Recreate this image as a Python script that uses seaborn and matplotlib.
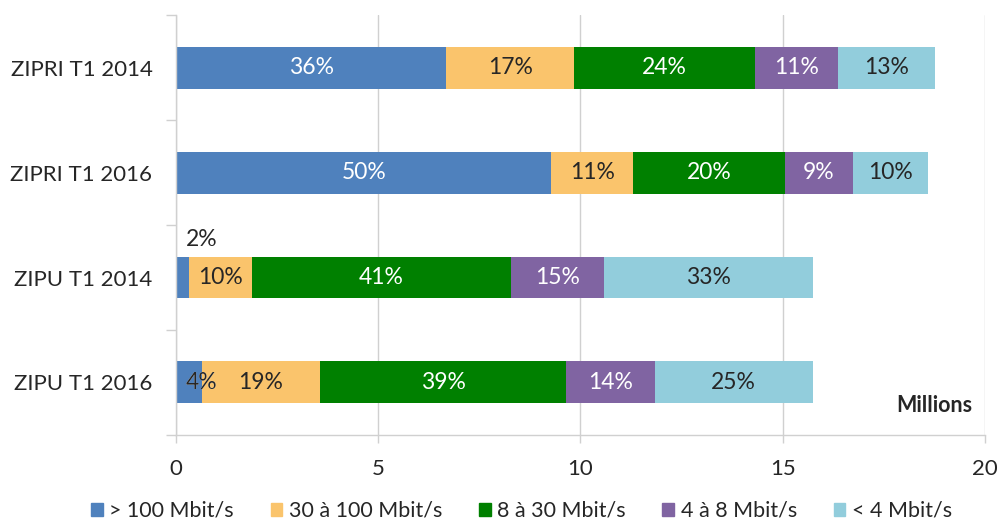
import numpy as np
import pandas as pd
import matplotlib
matplotlib.use("Agg")
import matplotlib.pyplot as plt
from matplotlib.patches import Rectangle
import seaborn as sns

# Subscriber counts (millions) by access speed class
categories = ["ZIPRI T1 2014", "ZIPRI T1 2016", "ZIPU T1 2014", "ZIPU T1 2016"]
speed_classes = ["> 100 Mbit/s", "30 à 100 Mbit/s", "8 à 30 Mbit/s", "4 à 8 Mbit/s", "< 4 Mbit/s"]
over_100 = [6.68, 9.28, 0.32, 0.64]
from_30_to_100 = [3.17, 2.03, 1.56, 2.92]
from_8_to_30 = [4.46, 3.74, 6.39, 6.09]
from_4_to_8 = [2.05, 1.68, 2.32, 2.18]
under_4 = [2.40, 1.86, 5.15, 3.91]

colors = ["#4F81BD", "#FAC46C", "#008000", "#8064A2", "#92CDDC"]
label_colors = ["white", "#262626", "white", "white", "#262626"]

sns.set_theme(style="white")
plt.rcParams["font.family"] = ["Lato", "DejaVu Sans"]

series = [over_100, from_30_to_100, from_8_to_30, from_4_to_8, under_4]
values = np.array(series)            # shape (classes, categories)
totals = values.sum(axis=0)
cum = np.cumsum(values, axis=0)
starts = cum - values
pct = np.rint(values / totals * 100).astype(int)

fig = plt.figure(figsize=(10.03, 5.22), dpi=100)
ax = fig.add_axes([0.1755, 0.1667, 0.8065, 0.8045])

# Stacked bars: draw cumulative totals from the outermost layer inwards
for k in range(len(speed_classes) - 1, -1, -1):
    df = pd.DataFrame({"cat": categories, "val": cum[k]})
    sns.barplot(data=df, x="val", y="cat", orient="h", color=colors[k],
                width=0.4, saturation=1, ax=ax, zorder=2, linewidth=0)

ax.set_xlim(0, 20)
ax.set_ylim(3.5, -0.5)
ax.set_xlabel("")
ax.set_ylabel("")

LABEL_FS = 16.5

# Segment percentage labels
ypos = np.arange(len(categories))
for k in range(len(speed_classes)):
    for j in range(len(categories)):
        txt = f"{pct[k, j]}%"
        xc = starts[k, j] + values[k, j] / 2
        if categories[j] == "ZIPU T1 2014" and k == 0:
            # tiny slice: label sits above the bar
            ax.text(starts[k, j] + values[k, j] * 2, ypos[j] - 0.36, txt,
                    ha="center", va="center", fontsize=LABEL_FS, color="#262626", zorder=4)
            continue
        if categories[j] == "ZIPU T1 2016" and k == 0:
            # label straddles the blue/yellow boundary; colour it by what lies beneath
            xc = cum[k, j]
            for col, x0, w in [(label_colors[0], 0, cum[0, j]),
                               (label_colors[1], cum[0, j], 20)]:
                t = ax.text(xc, ypos[j], txt, ha="center", va="center",
                            fontsize=LABEL_FS, color=col, zorder=4)
                t.set_clip_path(Rectangle((x0, ypos[j] - 0.5), w, 1.0,
                                          transform=ax.transData))
            continue
        ax.text(xc, ypos[j], txt, ha="center", va="center", fontsize=LABEL_FS,
                color=label_colors[k], zorder=4)

# Axes styling
grid_col = "#D0D0D0"
ax.set_xticks([0, 5, 10, 15, 20])
ax.xaxis.grid(True, color=grid_col, linewidth=1.0, zorder=0)
ax.set_axisbelow(True)
for side in ["top", "right"]:
    ax.spines[side].set_visible(False)
for side in ["left", "bottom"]:
    ax.spines[side].set_color(grid_col)
    ax.spines[side].set_linewidth(1.0)

ax.tick_params(axis="x", which="major", direction="out", length=6, width=1.0,
               color=grid_col, labelsize=16, labelcolor="#262626", pad=11, bottom=True)
ax.set_yticks(ypos)
ax.set_yticklabels(categories)
ax.tick_params(axis="y", which="major", length=0, labelsize=16, labelcolor="#262626", pad=17)
ax.set_yticks(np.arange(-0.5, len(categories), 1.0), minor=True)
ax.tick_params(axis="y", which="minor", direction="out", length=7, width=1.0,
               color=grid_col, left=True)

ax.text(0.985, 0.07, "Millions", transform=ax.transAxes, ha="right", va="center",
        fontsize=15.5, fontweight="bold", color="#262626")

handles = [plt.Rectangle((0, 0), 1, 1, color=c) for c in colors]
fig.legend(handles, speed_classes, loc="lower center", bbox_to_anchor=(0.52, -0.035),
           ncol=5, frameon=False, fontsize=15.5, handlelength=0.55, handleheight=0.55,
           handletextpad=0.3, columnspacing=1.7, labelcolor="#262626")

fig.savefig("out.png", dpi=100)
